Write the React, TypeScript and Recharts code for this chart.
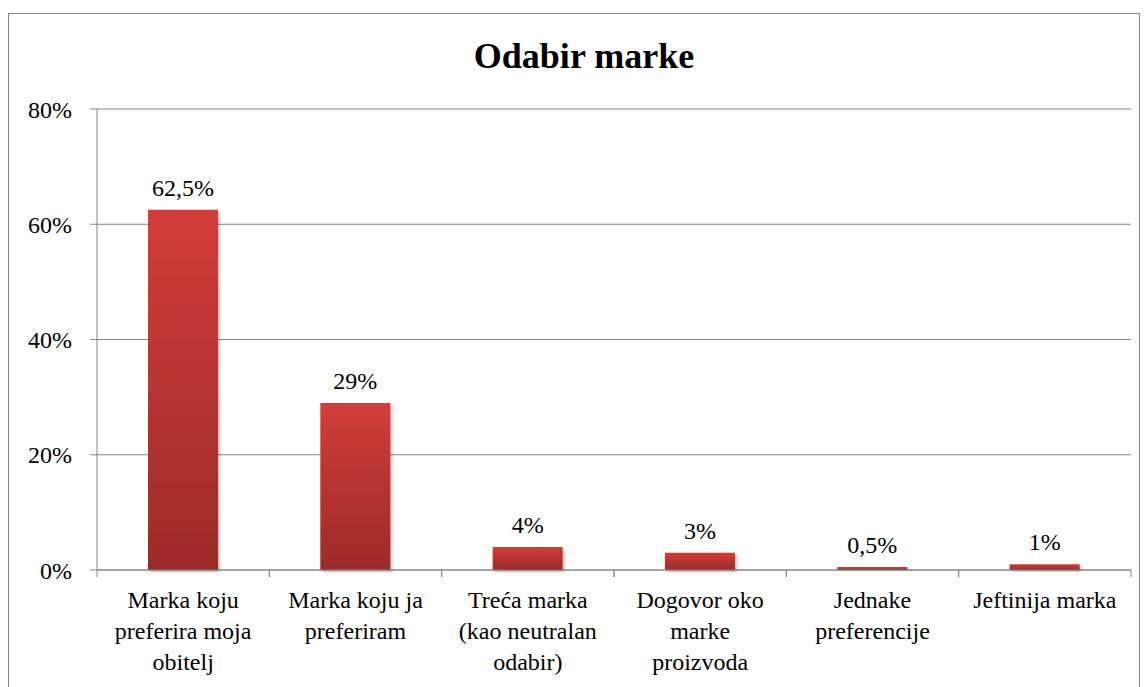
import { Bar, BarChart, CartesianGrid, LabelList, XAxis, YAxis } from 'recharts'

// Brand choice survey — share of answers per option.
const categories = [
  'Marka koju\npreferira moja\nobitelj',
  'Marka koju ja\npreferiram',
  'Treća marka\n(kao neutralan\nodabir)',
  'Dogovor oko\nmarke\nproizvoda',
  'Jednake\npreferencije',
  'Jeftinija marka',
]
const shares = [62.5, 29, 4, 3, 0.5, 1]
const yTicks = [0, 20, 40, 60, 80]

const FONT = 'Tinos, Times New Roman, serif'
const GRAY = '#868686'

const data = categories.map((name, i) => ({ name, value: shares[i] }))

// Category label in stacked lines, plus the boundary tick marks Excel draws
// between categories (recharts puts them at band centres otherwise).
function CategoryTick(props: any) {
  const { x, y, payload } = props
  const half = payload.offset || 86.17
  const lines: string[] = String(payload.value).split('\n')
  return (
    <g>
      <line x1={x - half} x2={x - half} y1={y} y2={y + 7} stroke={GRAY} />
      <line x1={x + half} x2={x + half} y1={y} y2={y + 7} stroke={GRAY} />
      <text x={x} y={y + 38} textAnchor="middle" fill="#000" fontSize={24} fontFamily={FONT}>
        {lines.map((l, i) => (
          <tspan key={i} x={x} dy={i === 0 ? 0 : 31}>
            {l}
          </tspan>
        ))}
      </text>
    </g>
  )
}

const pct = (v: any) => String(v).replace('.', ',') + '%'

export default function App() {
  return (
    <div style={{ paddingTop: 5 }}>
      <div
        style={{
          width: 1132,
          height: 674,
          borderTop: `1px solid ${GRAY}`,
          borderLeft: `1px solid ${GRAY}`,
          borderRight: `1px solid ${GRAY}`,
          boxSizing: 'border-box',
          fontFamily: FONT,
        }}
      >
        <BarChart
          width={1130}
          height={673}
          data={data}
          margin={{ top: 95, right: 8, bottom: 7, left: 0 }}
          style={{ fontFamily: FONT }}
        >
          <defs>
            <linearGradient id="barFill" x1="0" y1="0" x2="0" y2="1">
              <stop offset="0%" stopColor="#D23D39" />
              <stop offset="100%" stopColor="#9B2B28" />
            </linearGradient>
            <filter id="barShadow" x="-10%" y="-10%" width="130%" height="130%">
              <feDropShadow dx="2" dy="2" stdDeviation="1.5" floodColor="#000" floodOpacity="0.25" />
            </filter>
          </defs>
          <text
            x={575}
            y={54}
            textAnchor="middle"
            fontSize={36}
            fontWeight="bold"
            fontFamily={FONT}
            fill="#000"
          >
            Odabir marke
          </text>
          <CartesianGrid vertical={false} stroke={GRAY} strokeWidth={1} />
          <XAxis
            dataKey="name"
            interval={0}
            height={110}
            tickSize={0}
            tickMargin={0}
            tickLine={false}
            axisLine={{ stroke: GRAY }}
            tick={<CategoryTick />}
          />
          <YAxis
            width={88}
            domain={[0, 80]}
            ticks={yTicks}
            tickFormatter={(v) => `${v}%`}
            tickSize={7}
            tickMargin={18}
            axisLine={{ stroke: GRAY }}
            tickLine={{ stroke: GRAY }}
            tick={{ fill: '#000', fontSize: 24, fontFamily: FONT }}
          />
          <Bar
            dataKey="value"
            barSize={70}
            fill="url(#barFill)"
            filter="url(#barShadow)"
            isAnimationActive={false}
          >
            <LabelList
              dataKey="value"
              position="top"
              offset={14}
              formatter={pct}
              fill="#000"
              fontSize={24}
              fontFamily={FONT}
            />
          </Bar>
        </BarChart>
      </div>
    </div>
  )
}
